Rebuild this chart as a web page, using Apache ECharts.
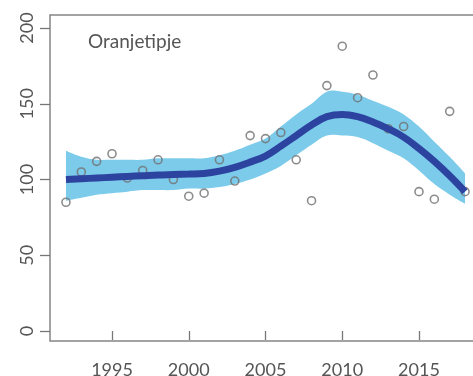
<!DOCTYPE html>
<html>
<head>
<meta charset="utf-8">
<script src="https://cdn.jsdelivr.net/npm/echarts@6/dist/echarts.min.js"></script>
<style>
html,body{margin:0;padding:0;background:#fff;}
#c{width:473px;height:376px;}
</style>
</head>
<body>
<div id="c"></div>
<script>
const title = 'Oranjetipje';
const years = [1992,1993,1994,1995,1996,1997,1998,1999,2000,2001,2002,2003,2004,2005,2006,2007,2008,2009,2010,2011,2012,2013,2014,2015,2016,2017,2018];
const counts = [85,105,112,117,101,106,113,100,89,91,113,99,129,127,131,113,86,162,188,154,169,133.5,135,92,87,145,92];
const trend = [100,100.5,101,101.5,102,102.5,103,103.3,103.6,104,105.5,108,111.5,115.5,122,129,136,141.5,143,141.5,138,133.5,128,120.5,112,102.5,92];
const lower = [86,88,90,91,92,93,93,93,94,94,95,97,100,104,109,116,123,129,129,128,124,119,114,106,97,90,84];
const upper = [119,115,113,113,113,113,114,114,114,114,116,119,123,127,135,143,150,158,158,156,152,148,143,135,125,115,104];
const xTicks = [1995,2000,2005,2010,2015];
const yTicks = [0,50,100,150,200];

const chart = echarts.init(document.getElementById('c'), null, {renderer:'canvas'});
const font = 'Lato, "Open Sans", sans-serif';
const bandData = years.map((y,i)=>[y,lower[i],upper[i]]);

// Catmull-Rom spline through pixel points -> SVG path segments
function splinePath(pts, t){
  let d='';
  for(let i=0;i<pts.length-1;i++){
    const p0=pts[Math.max(i-1,0)],p1=pts[i],p2=pts[i+1],p3=pts[Math.min(i+2,pts.length-1)];
    const c1=[p1[0]+(p2[0]-p0[0])*t, p1[1]+(p2[1]-p0[1])*t];
    const c2=[p2[0]-(p3[0]-p1[0])*t, p2[1]-(p3[1]-p1[1])*t];
    d+=' C'+c1[0]+','+c1[1]+' '+c2[0]+','+c2[1]+' '+p2[0]+','+p2[1];
  }
  return d;
}

chart.setOption({
  animation:false,
  backgroundColor:'#fff',
  title:{text:title,left:88,top:32,padding:0,
    textStyle:{fontFamily:font,fontSize:19,fontWeight:'normal',color:'#555'}},
  grid:{left:50,right:-8,top:15,bottom:35,show:true,borderColor:'#858585',borderWidth:1.5,backgroundColor:'transparent',
    containLabel:false,outerBoundsMode:'none'},
  xAxis:{type:'value',min:1990.96,max:2019.04,
    axisLine:{show:false},splitLine:{show:false},
    axisTick:{show:true,length:9,lineStyle:{color:'#777',width:1.3},customValues:xTicks},
    axisLabel:{customValues:xTicks,margin:20,fontFamily:font,fontSize:18,color:'#555',formatter:v=>String(v)}},
  yAxis:{type:'value',min:-6.6,max:208.6,
    axisLine:{show:false},splitLine:{show:false},
    axisTick:{show:true,length:10,lineStyle:{color:'#777',width:1.3},customValues:yTicks},
    axisLabel:{customValues:yTicks,rotate:90,margin:14,fontFamily:font,fontSize:18,color:'#555'}},
  series:[
    {type:'custom',name:'band',z:1,silent:true,
      data:bandData,
      encode:{x:0,y:[1,2]},
      renderItem:function(params,api){
        if(params.dataIndex!==0) return null;
        const up=[],lo=[];
        for(let i=0;i<bandData.length;i++){
          up.push(api.coord([bandData[i][0],bandData[i][2]]));
          lo.push(api.coord([bandData[i][0],bandData[i][1]]));
        }
        lo.reverse();
        const d='M'+up[0][0]+','+up[0][1]+splinePath(up,0.18)+' L'+lo[0][0]+','+lo[0][1]+splinePath(lo,0.18)+' Z';
        return {type:'path',shape:{pathData:d},style:{fill:'#7ccbea',stroke:null}};
      }},
    {type:'scatter',name:'counts',symbol:'circle',symbolSize:8,z:2,
      itemStyle:{color:'rgba(0,0,0,0)',borderColor:'#707070',borderWidth:1.6},
      data:years.map((y,i)=>[y,counts[i]])},
    {type:'line',name:'trend',smooth:0.4,symbol:'none',z:3,
      lineStyle:{color:'#2c43a0',width:7},data:years.map((y,i)=>[y,trend[i]])}
  ]
});
</script>
</body>
</html>
